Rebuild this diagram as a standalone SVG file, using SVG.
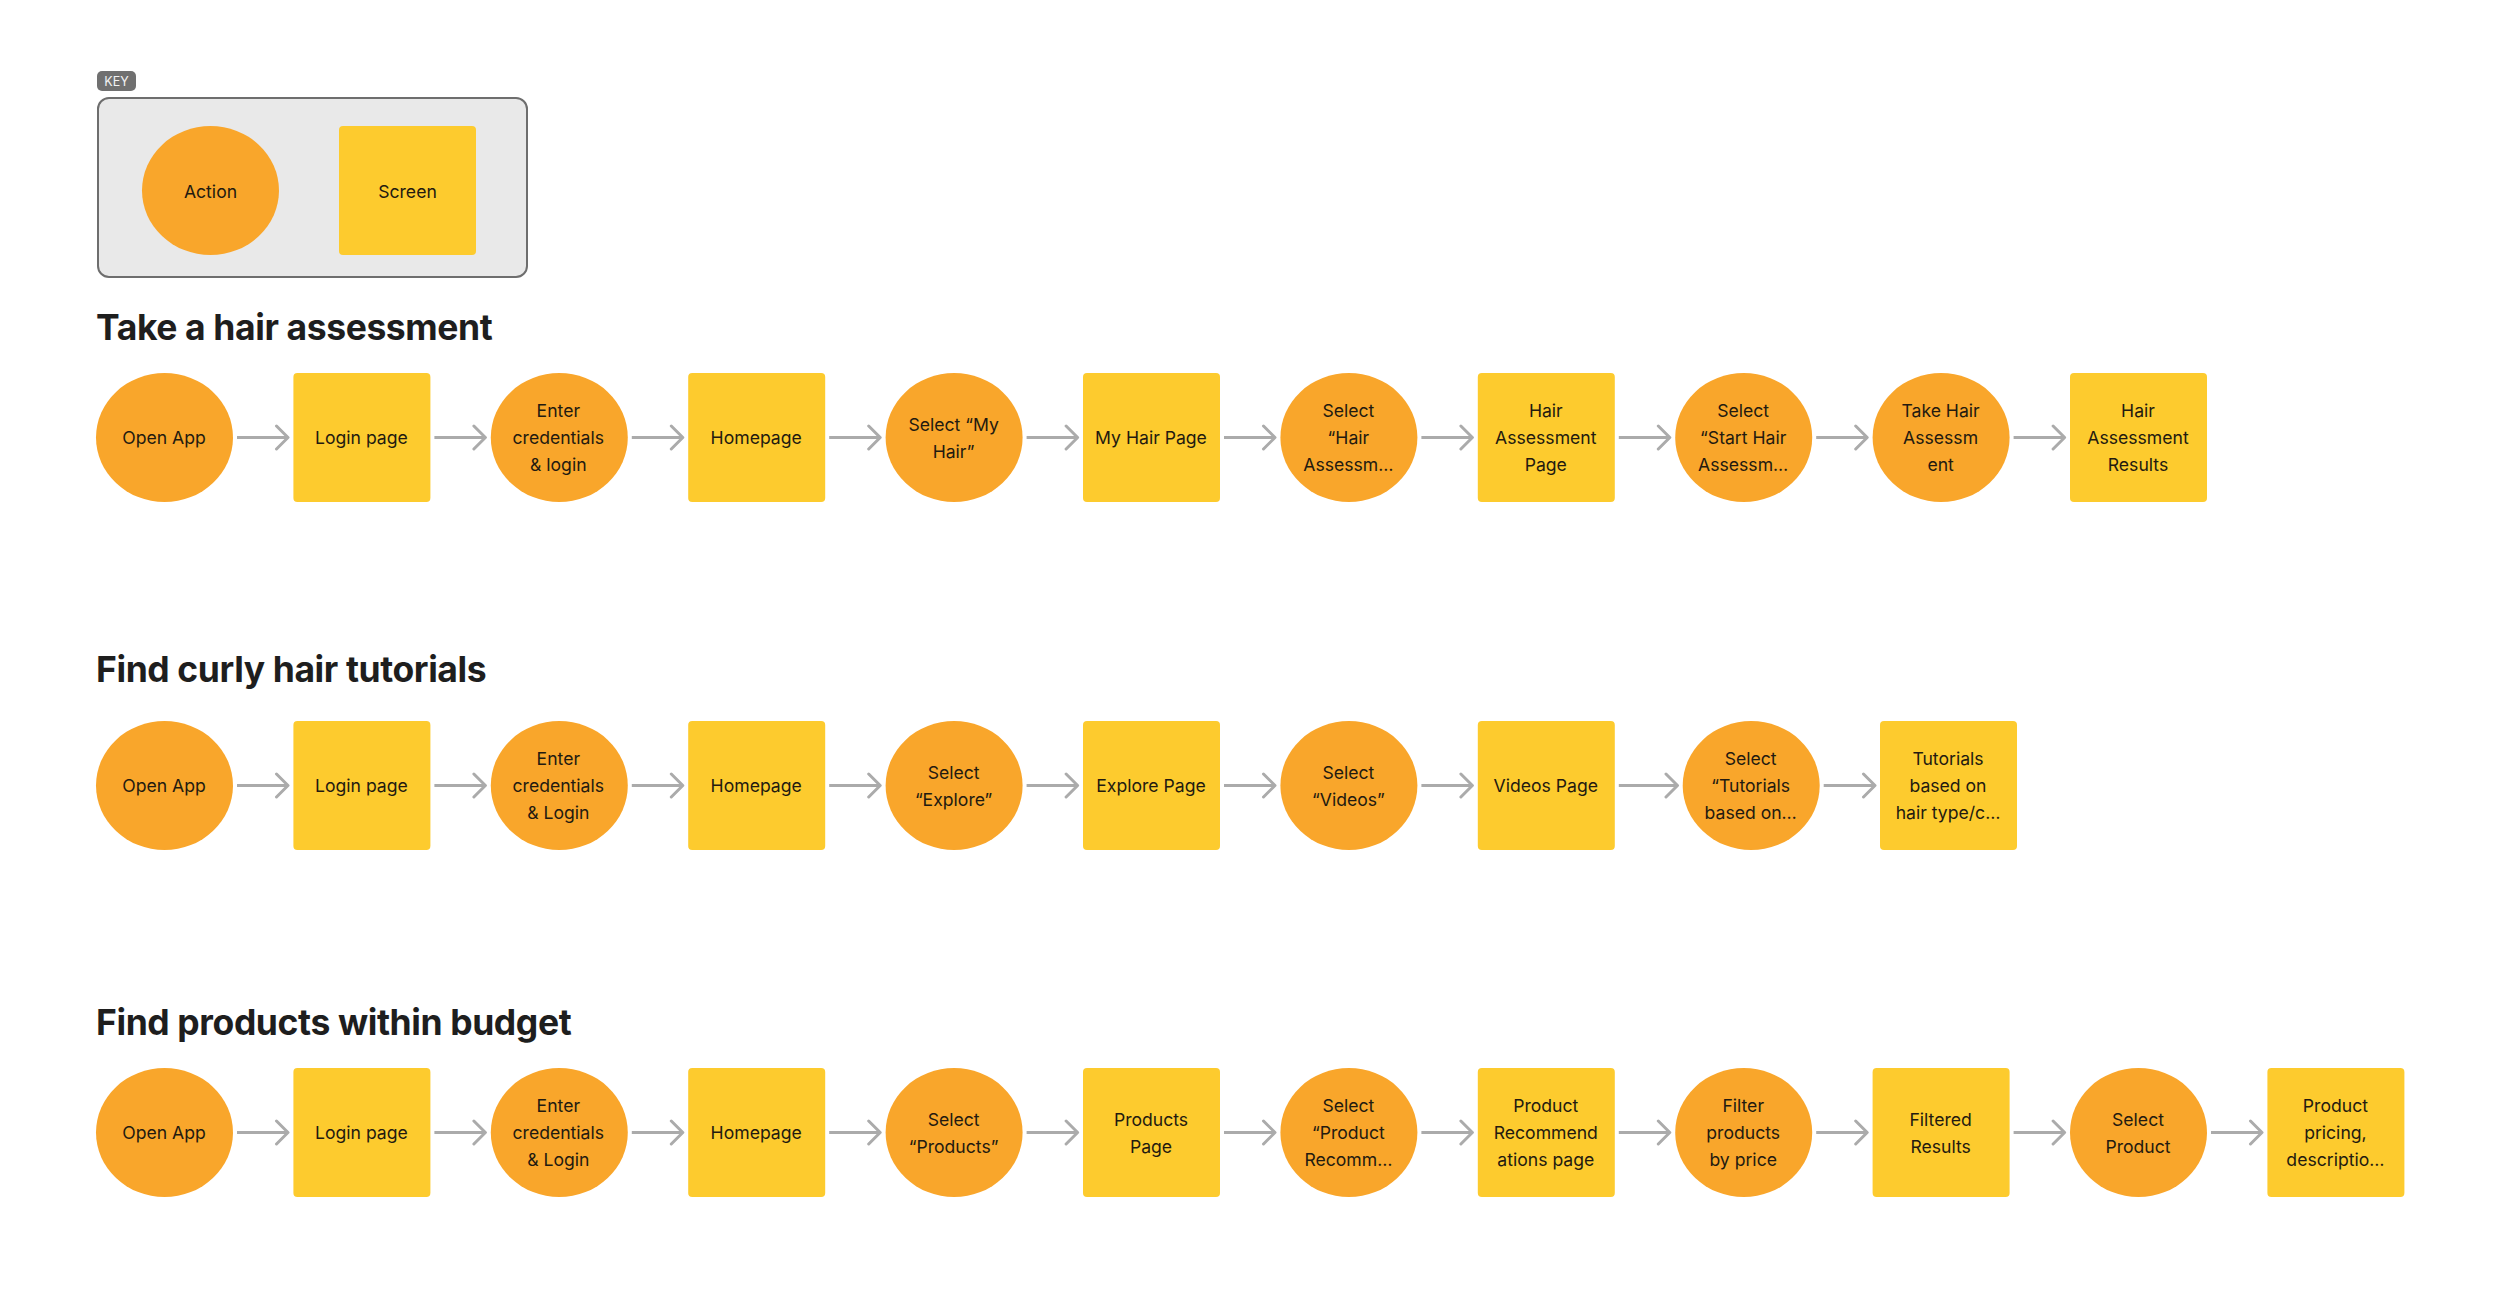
<svg xmlns="http://www.w3.org/2000/svg" width="2500" height="1293" viewBox="0 0 2500 1293">
<style>
.bg{fill:#ffffff}
.act{fill:#F9A62B}
.scr{fill:#FDCB2E}
.t{font-family:Inter,"Noto Sans","Liberation Sans",sans-serif;font-size:17.6px;fill:#231a10;text-anchor:middle}
.h{font-family:Inter,"Noto Sans","Liberation Sans",sans-serif;font-size:35.5px;font-weight:700;fill:#1e1e1e;letter-spacing:-0.4px}
.c{stroke:#ABABAB;stroke-width:3;fill:none;marker-end:url(#ah)}
</style>
<defs>
<marker id="ah" markerUnits="userSpaceOnUse" viewBox="0 0 16 28" refX="14" refY="14" markerWidth="16" markerHeight="28" orient="auto">
<path d="M2.5,2.5 L14,14 L2.5,25.5" fill="none" stroke="#ABABAB" stroke-width="3" stroke-linecap="round" stroke-linejoin="round"/>
</marker>
</defs>
<rect class="bg" x="0" y="0" width="2500" height="1293"/>

<g id="key">
<rect x="97" y="71" width="39" height="20" rx="5" fill="#707070"/>
<text x="116.5" y="86" font-family="Inter,'Noto Sans','Liberation Sans',sans-serif" font-size="12.5" fill="#f2f2f2" text-anchor="middle">KEY</text>
<rect x="98" y="98" width="429" height="179" rx="11" fill="#E9E9E9" stroke="#6E6E6E" stroke-width="2"/>
<ellipse class="act" cx="210.5" cy="190.5" rx="68.5" ry="64.5"/>
<text class="t" x="210.5" y="197.5">Action</text>
<rect class="scr" x="339" y="126" width="137" height="129" rx="4"/>
<text class="t" x="407.5" y="197.5">Screen</text>
</g>

<g id="titles">
<text class="h" x="96" y="340">Take a hair assessment</text>
<text class="h" x="96" y="682">Find curly hair tutorials</text>
<text class="h" x="96" y="1035">Find products within budget</text>
</g>

<g id="connectors">
<path class="c" d="M237,437.5 H288"/>
<path class="c" d="M434.4,437.5 H485.4"/>
<path class="c" d="M631.8,437.5 H682.8"/>
<path class="c" d="M829.2,437.5 H880.2"/>
<path class="c" d="M1026.6,437.5 H1077.6"/>
<path class="c" d="M1224,437.5 H1275"/>
<path class="c" d="M1421.4,437.5 H1472.4"/>
<path class="c" d="M1618.8,437.5 H1669.8"/>
<path class="c" d="M1816.2,437.5 H1867.2"/>
<path class="c" d="M2013.6,437.5 H2064.6"/>

<path class="c" d="M237,785.5 H288"/>
<path class="c" d="M434.4,785.5 H485.4"/>
<path class="c" d="M631.8,785.5 H682.8"/>
<path class="c" d="M829.2,785.5 H880.2"/>
<path class="c" d="M1026.6,785.5 H1077.6"/>
<path class="c" d="M1224,785.5 H1275"/>
<path class="c" d="M1421.4,785.5 H1472.4"/>
<path class="c" d="M1618.8,785.5 H1677.5"/>
<path class="c" d="M1823.7,785.5 H1875"/>

<path class="c" d="M237,1132.5 H288"/>
<path class="c" d="M434.4,1132.5 H485.4"/>
<path class="c" d="M631.8,1132.5 H682.8"/>
<path class="c" d="M829.2,1132.5 H880.2"/>
<path class="c" d="M1026.6,1132.5 H1077.6"/>
<path class="c" d="M1224,1132.5 H1275"/>
<path class="c" d="M1421.4,1132.5 H1472.4"/>
<path class="c" d="M1618.8,1132.5 H1669.8"/>
<path class="c" d="M1816.2,1132.5 H1867.2"/>
<path class="c" d="M2013.6,1132.5 H2064.6"/>
<path class="c" d="M2211,1132.5 H2262"/>
</g>

<!-- Row 1 -->
<g id="r1n1"><ellipse class="act" cx="164.5" cy="437.5" rx="68.5" ry="64.5"/><text class="t" x="164" y="444">Open App</text></g>
<g id="r1n2"><rect class="scr" x="293.4" y="373" width="137" height="129" rx="4"/><text class="t" x="361.4" y="444">Login page</text></g>
<g id="r1n3"><ellipse class="act" cx="559.3" cy="437.5" rx="68.5" ry="64.5"/><text class="t" x="558.3" y="417">Enter</text><text class="t" x="558.3" y="444">credentials</text><text class="t" x="558.3" y="471">&amp; login</text></g>
<g id="r1n4"><rect class="scr" x="688.2" y="373" width="137" height="129" rx="4"/><text class="t" x="756.2" y="444">Homepage</text></g>
<g id="r1n5"><ellipse class="act" cx="954.1" cy="437.5" rx="68.5" ry="64.5"/><text class="t" x="953.6" y="430.5">Select “My</text><text class="t" x="953.6" y="457.5">Hair”</text></g>
<g id="r1n6"><rect class="scr" x="1083" y="373" width="137" height="129" rx="4"/><text class="t" x="1151" y="444">My Hair Page</text></g>
<g id="r1n7"><ellipse class="act" cx="1348.9" cy="437.5" rx="68.5" ry="64.5"/><text class="t" x="1348.4" y="417">Select</text><text class="t" x="1348.4" y="444">“Hair</text><text class="t" x="1348.4" y="471">Assessm…</text></g>
<g id="r1n8"><rect class="scr" x="1477.8" y="373" width="137" height="129" rx="4"/><text class="t" x="1545.8" y="417">Hair</text><text class="t" x="1545.8" y="444">Assessment</text><text class="t" x="1545.8" y="471">Page</text></g>
<g id="r1n9"><ellipse class="act" cx="1743.7" cy="437.5" rx="68.5" ry="64.5"/><text class="t" x="1743.2" y="417">Select</text><text class="t" x="1743.2" y="444">“Start Hair</text><text class="t" x="1743.2" y="471">Assessm…</text></g>
<g id="r1n10"><ellipse class="act" cx="1941.1" cy="437.5" rx="68.5" ry="64.5"/><text class="t" x="1940.6" y="417">Take Hair</text><text class="t" x="1940.6" y="444">Assessm</text><text class="t" x="1940.6" y="471">ent</text></g>
<g id="r1n11"><rect class="scr" x="2070" y="373" width="137" height="129" rx="4"/><text class="t" x="2138" y="417">Hair</text><text class="t" x="2138" y="444">Assessment</text><text class="t" x="2138" y="471">Results</text></g>

<!-- Row 2 -->
<g id="r2n1"><ellipse class="act" cx="164.5" cy="785.5" rx="68.5" ry="64.5"/><text class="t" x="164" y="792">Open App</text></g>
<g id="r2n2"><rect class="scr" x="293.4" y="721" width="137" height="129" rx="4"/><text class="t" x="361.4" y="792">Login page</text></g>
<g id="r2n3"><ellipse class="act" cx="559.3" cy="785.5" rx="68.5" ry="64.5"/><text class="t" x="558.3" y="765">Enter</text><text class="t" x="558.3" y="792">credentials</text><text class="t" x="558.3" y="819">&amp; Login</text></g>
<g id="r2n4"><rect class="scr" x="688.2" y="721" width="137" height="129" rx="4"/><text class="t" x="756.2" y="792">Homepage</text></g>
<g id="r2n5"><ellipse class="act" cx="954.1" cy="785.5" rx="68.5" ry="64.5"/><text class="t" x="953.6" y="778.5">Select</text><text class="t" x="953.6" y="805.5">“Explore”</text></g>
<g id="r2n6"><rect class="scr" x="1083" y="721" width="137" height="129" rx="4"/><text class="t" x="1151" y="792">Explore Page</text></g>
<g id="r2n7"><ellipse class="act" cx="1348.9" cy="785.5" rx="68.5" ry="64.5"/><text class="t" x="1348.4" y="778.5">Select</text><text class="t" x="1348.4" y="805.5">“Videos”</text></g>
<g id="r2n8"><rect class="scr" x="1477.8" y="721" width="137" height="129" rx="4"/><text class="t" x="1545.8" y="792">Videos Page</text></g>
<g id="r2n9"><ellipse class="act" cx="1751.2" cy="785.5" rx="68.5" ry="64.5"/><text class="t" x="1750.7" y="765">Select</text><text class="t" x="1750.7" y="792">“Tutorials</text><text class="t" x="1750.7" y="819">based on…</text></g>
<g id="r2n10"><rect class="scr" x="1880" y="721" width="137" height="129" rx="4"/><text class="t" x="1948" y="765">Tutorials</text><text class="t" x="1948" y="792">based on</text><text class="t" x="1948" y="819">hair type/c…</text></g>

<!-- Row 3 -->
<g id="r3n1"><ellipse class="act" cx="164.5" cy="1132.5" rx="68.5" ry="64.5"/><text class="t" x="164" y="1139">Open App</text></g>
<g id="r3n2"><rect class="scr" x="293.4" y="1068" width="137" height="129" rx="4"/><text class="t" x="361.4" y="1139">Login page</text></g>
<g id="r3n3"><ellipse class="act" cx="559.3" cy="1132.5" rx="68.5" ry="64.5"/><text class="t" x="558.3" y="1112">Enter</text><text class="t" x="558.3" y="1139">credentials</text><text class="t" x="558.3" y="1166">&amp; Login</text></g>
<g id="r3n4"><rect class="scr" x="688.2" y="1068" width="137" height="129" rx="4"/><text class="t" x="756.2" y="1139">Homepage</text></g>
<g id="r3n5"><ellipse class="act" cx="954.1" cy="1132.5" rx="68.5" ry="64.5"/><text class="t" x="953.6" y="1125.5">Select</text><text class="t" x="953.6" y="1152.5">“Products”</text></g>
<g id="r3n6"><rect class="scr" x="1083" y="1068" width="137" height="129" rx="4"/><text class="t" x="1151" y="1125.5">Products</text><text class="t" x="1151" y="1152.5">Page</text></g>
<g id="r3n7"><ellipse class="act" cx="1348.9" cy="1132.5" rx="68.5" ry="64.5"/><text class="t" x="1348.4" y="1112">Select</text><text class="t" x="1348.4" y="1139">“Product</text><text class="t" x="1348.4" y="1166">Recomm…</text></g>
<g id="r3n8"><rect class="scr" x="1477.8" y="1068" width="137" height="129" rx="4"/><text class="t" x="1545.8" y="1112">Product</text><text class="t" x="1545.8" y="1139">Recommend</text><text class="t" x="1545.8" y="1166">ations page</text></g>
<g id="r3n9"><ellipse class="act" cx="1743.7" cy="1132.5" rx="68.5" ry="64.5"/><text class="t" x="1743.2" y="1112">Filter</text><text class="t" x="1743.2" y="1139">products</text><text class="t" x="1743.2" y="1166">by price</text></g>
<g id="r3n10"><rect class="scr" x="1872.6" y="1068" width="137" height="129" rx="4"/><text class="t" x="1940.6" y="1125.5">Filtered</text><text class="t" x="1940.6" y="1152.5">Results</text></g>
<g id="r3n11"><ellipse class="act" cx="2138.5" cy="1132.5" rx="68.5" ry="64.5"/><text class="t" x="2138" y="1125.5">Select</text><text class="t" x="2138" y="1152.5">Product</text></g>
<g id="r3n12"><rect class="scr" x="2267.4" y="1068" width="137" height="129" rx="4"/><text class="t" x="2335.4" y="1112">Product</text><text class="t" x="2335.4" y="1139">pricing,</text><text class="t" x="2335.4" y="1166">descriptio…</text></g>
</svg>
